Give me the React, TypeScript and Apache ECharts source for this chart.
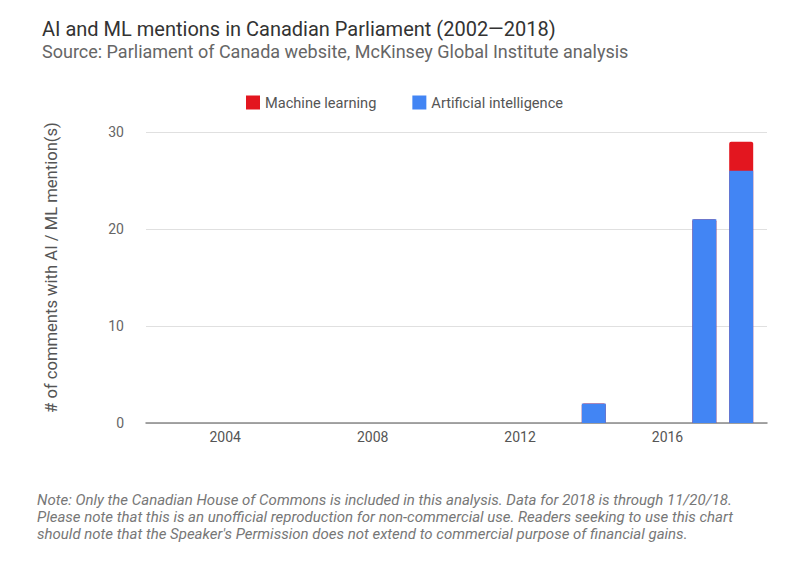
import React, { useEffect, useRef } from "react";
import * as echarts from "echarts";

const years = [2014, 2017, 2018];
const aiValues = [2, 21, 26];
const mlValues = [0, 0, 3];
const xTickLabels = [2004, 2008, 2012, 2016];

const titleText = "AI and ML mentions in Canadian Parliament (2002\u20142018)";
const subtitleText = "Source: Parliament of Canada website, McKinsey Global Institute analysis";
const noteLines = [
  "Note: Only the Canadian House of Commons is included in this analysis. Data for 2018 is through 11/20/18.",
  "Please note that this is an unofficial reproduction for non-commercial use. Readers seeking to use this chart",
  "should note that the Speaker's Permission does not extend to commercial purpose of financial gains.",
];

export default function App() {
  const ref = useRef<HTMLDivElement>(null);
  useEffect(() => {
    if (!ref.current) return;
    const chart = echarts.init(ref.current, undefined, { renderer: "svg" });
    const font = "Roboto, 'Noto Sans', sans-serif";
    // ML is drawn as the full stacked total behind the AI bar (visually stacked on top)
    const totals = aiValues.map((v, i) => v + mlValues[i]);
    chart.setOption({
      animation: false,
      textStyle: { fontFamily: font },
      title: [
        {
          text: titleText,
          left: 37,
          top: 14,
          textStyle: { fontSize: 20, fontWeight: "normal", color: "#333", fontFamily: font },
        },
        {
          text: subtitleText,
          left: 37,
          top: 37,
          textStyle: { fontSize: 18, fontWeight: "normal", color: "#666", fontFamily: font },
        },
      ],
      legend: {
        data: ["Machine learning", "Artificial intelligence"],
        top: 90,
        left: 241,
        itemWidth: 14,
        itemHeight: 14,
        itemGap: 36,
        icon: "rect",
        textStyle: { fontSize: 14.6, color: "#555", fontFamily: font },
      },
      grid: { left: 146, right: 29, top: 132, bottom: 156 },
      xAxis: {
        type: "value",
        min: 2001.85,
        max: 2018.7,
        axisLine: { show: true, lineStyle: { color: "#888", width: 1.5 } },
        axisTick: { show: false },
        splitLine: { show: false },
        axisLabel: {
          customValues: xTickLabels,
          fontSize: 14,
          color: "#555",
          margin: 7,
          formatter: (v: number) => String(v),
        },
      },
      yAxis: {
        type: "value",
        min: 0,
        max: 30,
        interval: 10,
        name: "# of comments with AI / ML mention(s)",
        nameLocation: "middle",
        nameGap: 86,
        nameRotate: 90,
        nameTextStyle: {
          fontSize: 16.6,
          color: "#555",
          fontFamily: font,
          padding: [0, 0, 0, 20],
        },
        axisLine: { show: false },
        axisTick: { show: false },
        axisLabel: { fontSize: 14, color: "#666", margin: 22, padding: [0, 0, 6, 0] },
        splitLine: { lineStyle: { color: "#e0e0e0", width: 1 } },
      },
      series: [
        {
          name: "Machine learning",
          type: "bar",
          barWidth: 24,
          barGap: "-100%",
          itemStyle: { color: "#e3161f", borderRadius: [2, 2, 0, 0] },
          data: years.map((y, i) => [y, totals[i]]),
        },
        {
          name: "Artificial intelligence",
          type: "bar",
          barWidth: 24,
          barGap: "-100%",
          itemStyle: { color: "#4285f4" },
          data: years.map((y, i) => [y, aiValues[i]]),
        },
      ],
      graphic: noteLines.map((t, i) => ({
        type: "text",
        left: 37,
        top: 492 + i * 17,
        style: {
          text: t,
          fontSize: 15,
          fontStyle: "italic",
          fill: "#777",
          fontFamily: font,
        },
      })),
    });
    return () => chart.dispose();
  }, []);
  return (
    <div
      ref={ref}
      style={{ position: "absolute", left: 0, top: 0, width: 796, height: 579 }}
    />
  );
}
